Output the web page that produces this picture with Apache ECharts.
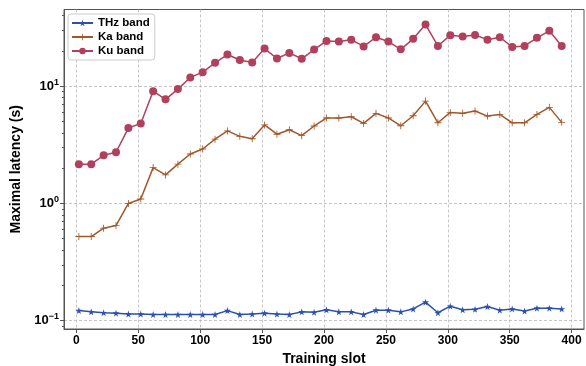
<!DOCTYPE html>
<html>
<head>
<meta charset="utf-8">
<script src="https://cdn.jsdelivr.net/npm/echarts@6/dist/echarts.min.js"></script>
<style>
html, body { margin: 0; padding: 0; background: #fff; }
#chart { width: 586px; height: 366px; }
</style>
</head>
<body>
<div id="chart"></div>
<script>
// training slots (x)
const slots = [2, 12, 22, 32, 42, 52, 62, 72, 82, 92, 102, 112, 122, 132, 142, 152, 162, 172, 182, 192,
  202, 212, 222, 232, 242, 252, 262, 272, 282, 292, 302, 312, 322, 332, 342, 352, 362, 372, 382, 392]

// maximal latency (s) per band
const thzBand = [0.122, 0.119, 0.117, 0.116, 0.114, 0.114, 0.113, 0.113, 0.113, 0.113, 0.113, 0.113, 0.122, 0.113, 0.114, 0.116, 0.114, 0.113, 0.119, 0.118,
  0.124, 0.119, 0.119, 0.113, 0.123, 0.123, 0.119, 0.126, 0.144, 0.117, 0.133, 0.124, 0.125, 0.132, 0.123, 0.126, 0.121, 0.128, 0.128, 0.126]
const kaBand = [0.522, 0.522, 0.615, 0.647, 1.00, 1.09, 2.02, 1.75, 2.16, 2.64, 2.91, 3.53, 4.15, 3.73, 3.56, 4.67, 3.89, 4.25, 3.78, 4.57,
  5.35, 5.35, 5.48, 4.81, 5.86, 5.35, 4.59, 5.59, 7.45, 4.87, 5.97, 5.86, 6.13, 5.55, 5.74, 4.87, 4.87, 5.74, 6.59, 4.91]
const kuBand = [2.16, 2.16, 2.57, 2.73, 4.39, 4.81, 9.06, 7.71, 9.43, 11.86, 13.15, 15.79, 18.6, 16.7, 15.9, 20.9, 17.2, 19.2, 17.1, 20.5,
  24.3, 24.0, 24.9, 21.8, 26.1, 24.0, 20.6, 25.3, 33.5, 22.0, 27.2, 26.5, 27.3, 24.9, 26.1, 21.6, 22.0, 25.8, 29.6, 22.0]

// ticks
const xTicks = [0, 50, 100, 150, 200, 250, 300, 350, 400]
const yTickExps = [-1, 0, 1]
const yMinorTicks = [0.09, 0.2, 0.3, 0.4, 0.5, 0.6, 0.7, 0.8, 0.9, 2, 3, 4, 5, 6, 7, 8, 9, 20, 30, 40]
const yMin = 0.085
const yMax = 45

const STAR = 'path://M50,0L61,35H98L68,57L79,91L50,70L21,91L32,57L2,35H39Z'
const PLUS = 'path://M4.4,0H5.6V4.4H10V5.6H5.6V10H4.4V5.6H0V4.4H4.4Z'

const pairs = (ys) => slots.map((x, i) => [x, ys[i]])

const chart = echarts.init(document.getElementById('chart'))

const gridLine = { show: true, lineStyle: { color: '#b8b8b8', type: [3, 2], width: 0.8 } }

const option = {
  animation: false,
  textStyle: { fontFamily: 'Liberation Sans, Arial, sans-serif' },
  grid: {
    left: 64, right: 2, top: 9.5, bottom: 37,
    outerBoundsMode: 'none',
    containLabel: false,
    show: true, borderColor: '#555', borderWidth: 1
  },
  legend: {
    orient: 'vertical',
    left: 68, top: 14,
    padding: [3, 5, 3, 3],
    itemWidth: 21, itemHeight: 8, itemGap: 2,
    backgroundColor: 'rgba(255,255,255,0.85)',
    borderColor: '#cccccc', borderWidth: 1, borderRadius: 3,
    textStyle: { fontSize: 11.5, fontWeight: 'bold', color: '#000' },
    data: ['THz band', 'Ka band', 'Ku band']
  },
  xAxis: {
    type: 'value',
    min: -10, max: 410,
    name: 'Training slot',
    nameLocation: 'middle',
    nameGap: 20,
    nameTextStyle: { fontSize: 14, fontWeight: 'bold', color: '#000' },
    axisLine: { show: true, onZero: false, lineStyle: { color: '#555' } },
    axisTick: { show: true, length: 4, customValues: xTicks, lineStyle: { color: '#555' } },
    axisLabel: { customValues: xTicks, fontSize: 12, fontWeight: 'bold', color: '#000', margin: 6 },
    splitLine: gridLine
  },
  yAxis: [
    {
      // data axis (log scale)
      type: 'log', logBase: 10,
      min: yMin, max: yMax,
      show: false,
      splitLine: { show: false }
    },
    {
      // major ticks, labels and grid in log10 space
      type: 'value',
      min: Math.log10(yMin), max: Math.log10(yMax),
      position: 'left',
      name: 'Maximal latency (s)',
      nameLocation: 'middle',
      nameGap: 37,
      nameTextStyle: { fontSize: 14, fontWeight: 'bold', color: '#000' },
      axisLine: { show: true, onZero: false, lineStyle: { color: '#555' } },
      axisTick: { show: true, length: 4, customValues: yTickExps, lineStyle: { color: '#555' } },
      axisLabel: {
        customValues: yTickExps,
        margin: 5,
        formatter: (v) => '{b|10}{s|' + (v < 0 ? '\u2212' + (-v) : v) + '}',
        rich: {
          b: { fontSize: 13, fontWeight: 'bold', color: '#000' },
          s: { fontSize: 9, fontWeight: 'bold', color: '#000', padding: [0, 0, 8, 0] }
        }
      },
      splitLine: gridLine
    },
    {
      // minor ticks
      type: 'value',
      min: Math.log10(yMin), max: Math.log10(yMax),
      position: 'left',
      axisLine: { show: false, onZero: false },
      axisTick: { show: true, length: 2, customValues: yMinorTicks.map(Math.log10), lineStyle: { color: '#555' } },
      axisLabel: { show: false },
      splitLine: { show: false }
    }
  ],
  series: [
    {
      name: 'THz band', type: 'line', yAxisIndex: 0,
      data: pairs(thzBand),
      symbol: STAR, symbolSize: 7,
      lineStyle: { color: '#2c50b0', width: 1.5 },
      itemStyle: { color: '#2c50b0' },
      z: 2
    },
    {
      name: 'Ka band', type: 'line', yAxisIndex: 0,
      data: pairs(kaBand),
      symbol: PLUS, symbolSize: 7,
      lineStyle: { color: '#a0582a', width: 1.5 },
      itemStyle: { color: '#a0582a' },
      z: 3
    },
    {
      name: 'Ku band', type: 'line', yAxisIndex: 0,
      data: pairs(kuBand),
      symbol: 'circle', symbolSize: 8,
      lineStyle: { color: '#b0405e', width: 1.5 },
      itemStyle: { color: '#b0405e' },
      z: 4
    }
  ]
}

chart.setOption(option)
</script>
</body>
</html>
